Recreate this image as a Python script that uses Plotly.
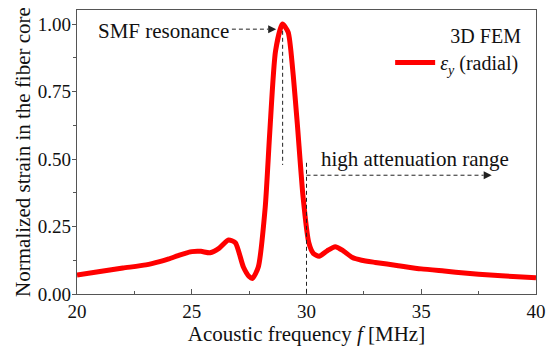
import plotly.graph_objects as go

# ---- data ----
freq_mhz = [20, 21, 22, 23, 23.6, 24, 24.5, 25, 25.4, 25.8, 26.2, 26.6, 26.9, 27.25,
            27.5, 27.65, 27.9, 28.2, 28.4, 28.65, 28.95, 29.2, 29.4, 29.6, 29.85,
            30.1, 30.3, 30.55, 30.9, 31.25, 31.6, 32.0, 32.4, 33.0, 34.0, 35.0,
            36.0, 37.0, 38.0, 39.0, 40.0]
strain_y = [0.070, 0.083, 0.096, 0.108, 0.120, 0.130, 0.145, 0.157, 0.158, 0.153,
            0.170, 0.200, 0.190, 0.100, 0.065, 0.058, 0.100, 0.320, 0.600, 0.900,
            1.000, 0.970, 0.830, 0.630, 0.360, 0.190, 0.150, 0.140, 0.160, 0.175,
            0.160, 0.135, 0.125, 0.117, 0.105, 0.093, 0.085, 0.077, 0.070, 0.065,
            0.060]

x_ticks = [20, 25, 30, 35, 40]
y_ticks = [0.00, 0.25, 0.50, 0.75, 1.00]
y_tick_text = ["0.00", "0.25", "0.50", "0.75", "1.00"]

# annotation anchors (data coords)
smf_text_pos = (23.78, 0.975)
smf_arrow = (26.75, 28.68, 0.981)      # x0, tip x, y
smf_vline = (28.96, 0.975, 0.478)      # x, y0, y1
att_vline = (30.0, 0.486, 0.0)
att_arrow = (30.0, 38.07, 0.44)
att_text_pos = (34.73, 0.50)
head_len = 0.35

FONT = "Liberation Serif, Times New Roman, serif"
TXT = "#111111"
fig = go.Figure()
fig.add_trace(go.Scatter(
    x=freq_mhz, y=strain_y, mode="lines",
    line=dict(color="#ff0000", width=5, shape="spline", smoothing=0.6),
    name="<i>ε</i><sub><i>y</i></sub> (radial)",
))

dash = "4px,3px"
lc = "#222222"
shapes = [
    dict(type="line", xref="x", yref="y", x0=smf_arrow[0], x1=smf_arrow[1] - head_len,
         y0=smf_arrow[2], y1=smf_arrow[2], line=dict(color=lc, width=1, dash=dash)),
    dict(type="line", xref="x", yref="y", x0=smf_vline[0], x1=smf_vline[0],
         y0=smf_vline[1], y1=smf_vline[2], line=dict(color=lc, width=1, dash=dash)),
    dict(type="line", xref="x", yref="y", x0=att_vline[0], x1=att_vline[0],
         y0=att_vline[1], y1=att_vline[2], line=dict(color=lc, width=1, dash=dash)),
    dict(type="line", xref="x", yref="y", x0=att_arrow[0], x1=att_arrow[1] - head_len,
         y0=att_arrow[2], y1=att_arrow[2], line=dict(color=lc, width=1, dash=dash)),
]
annotations = [
    dict(x=smf_arrow[1], y=smf_arrow[2], ax=smf_arrow[1] - head_len, ay=smf_arrow[2],
         axref="x", ayref="y", xref="x", yref="y", text="", showarrow=True,
         arrowhead=2, arrowsize=1.6, arrowwidth=1, arrowcolor=lc, standoff=0),
    dict(x=att_arrow[1], y=att_arrow[2], ax=att_arrow[1] - head_len, ay=att_arrow[2],
         axref="x", ayref="y", xref="x", yref="y", text="", showarrow=True,
         arrowhead=2, arrowsize=1.6, arrowwidth=1, arrowcolor=lc, standoff=0),
    dict(x=smf_text_pos[0], y=smf_text_pos[1], xref="x", yref="y", text="SMF resonance",
         showarrow=False, font=dict(family=FONT, size=21, color=TXT)),
    dict(x=att_text_pos[0], y=att_text_pos[1], xref="x", yref="y",
         text="high attenuation range", showarrow=False,
         font=dict(family=FONT, size=21, color=TXT)),
]

axis_common = dict(showline=True, linecolor="#555555", linewidth=1.2, mirror=True,
                   showgrid=False, zeroline=False, tickcolor="#555555", automargin=False,
                   tickfont=dict(family=FONT, size=19, color=TXT))

fig.update_layout(
    width=551, height=346,
    margin=dict(l=77, r=15, t=10, b=52),
    paper_bgcolor="white", plot_bgcolor="white",
    font=dict(family=FONT, color=TXT, size=19),
    shapes=shapes, annotations=annotations,
    showlegend=True,
    legend=dict(x=0.972, y=0.975, xanchor="right", yanchor="top",
                bgcolor="rgba(0,0,0,0)",
                title=dict(text="3D FEM", side="top right",
                           font=dict(family=FONT, size=20, color=TXT)),
                font=dict(family=FONT, size=20, color=TXT),
                itemwidth=40),
    xaxis=dict(range=[20, 40], tickvals=x_ticks, ticks="inside", ticklen=5,
               minor=dict(ticks="inside", ticklen=3, dtick=2.5, tickcolor="#555555"),
               title=dict(text="Acoustic frequency <i>f</i> [MHz]",
                          font=dict(family=FONT, size=21, color=TXT), standoff=8),
               **axis_common),
    yaxis=dict(range=[0, 1.052], tickvals=y_ticks, ticktext=y_tick_text,
               ticks="outside", ticklen=4, ticklabelstandoff=-3,
               minor=dict(ticks="outside", ticklen=3, dtick=0.125, tickcolor="#555555"),
               title=dict(text="Normalized strain in the fiber core",
                          font=dict(family=FONT, size=21, color=TXT), standoff=1),
               **axis_common),
)

fig.write_html("out.html")
